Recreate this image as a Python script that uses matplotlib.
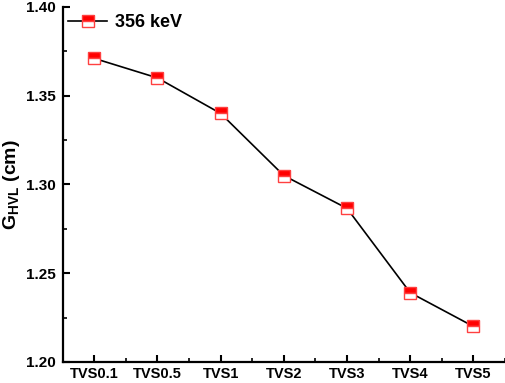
import matplotlib
matplotlib.use('Agg')
import matplotlib.pyplot as plt
from matplotlib.ticker import MultipleLocator, FixedLocator, FormatStrFormatter

plt.rcParams['font.family'] = ['Liberation Sans', 'DejaVu Sans']
plt.rcParams['font.weight'] = 'bold'
plt.rcParams['mathtext.fontset'] = 'custom'
plt.rcParams['mathtext.rm'] = 'Liberation Sans:bold'
plt.rcParams['mathtext.it'] = 'Liberation Sans:bold'
plt.rcParams['mathtext.bf'] = 'Liberation Sans:bold'

# data
samples = ['TVS0.1', 'TVS0.5', 'TVS1', 'TVS2', 'TVS3', 'TVS4', 'TVS5']
g_hvl = [1.371, 1.360, 1.340, 1.305, 1.2865, 1.239, 1.220]
series_label = '356 keV'

fig = plt.figure(figsize=(5.05, 3.83), dpi=100)
ax = fig.add_axes([0.124, 0.055, 0.876, 0.927])

x = list(range(len(samples)))
ax.plot(x, g_hvl, color='black', linewidth=1.2, marker='s', markersize=8,
        markerfacecolor='#ff0000', markerfacecoloralt='white', fillstyle='top',
        markeredgecolor='#ff4040', markeredgewidth=1.0, label=series_label)

ax.set_xlim(-0.5, 6.5)
ax.set_ylim(1.20, 1.40)
ax.set_xticks(x)
ax.set_xticklabels(samples)
ax.xaxis.set_minor_locator(FixedLocator([i + 0.5 for i in range(-1, 7)]))
ax.yaxis.set_major_locator(MultipleLocator(0.05))
ax.yaxis.set_minor_locator(MultipleLocator(0.025))
ax.yaxis.set_major_formatter(FormatStrFormatter('%.2f'))

for side in ['top', 'right']:
    ax.spines[side].set_visible(False)
for side in ['left', 'bottom']:
    ax.spines[side].set_linewidth(1.6)

ax.tick_params(which='major', direction='in', length=5, width=1.5)
ax.tick_params(which='minor', direction='in', length=3, width=1.2)
ax.tick_params(axis='x', which='major', labelsize=10.5, pad=4)
ax.tick_params(axis='y', which='major', labelsize=11, pad=5)

ax.set_ylabel(r'$\mathrm{G_{HVL}}$ (cm)', fontsize=14, fontweight='bold')
ax.yaxis.set_label_coords(-0.092, 0.5)

ax.legend(loc='upper left', bbox_to_anchor=(-0.013, 1.01), frameon=False, fontsize=13,
          handlelength=2.2, handletextpad=0.4, borderaxespad=0.2)

fig.savefig('out.png', dpi=100)
